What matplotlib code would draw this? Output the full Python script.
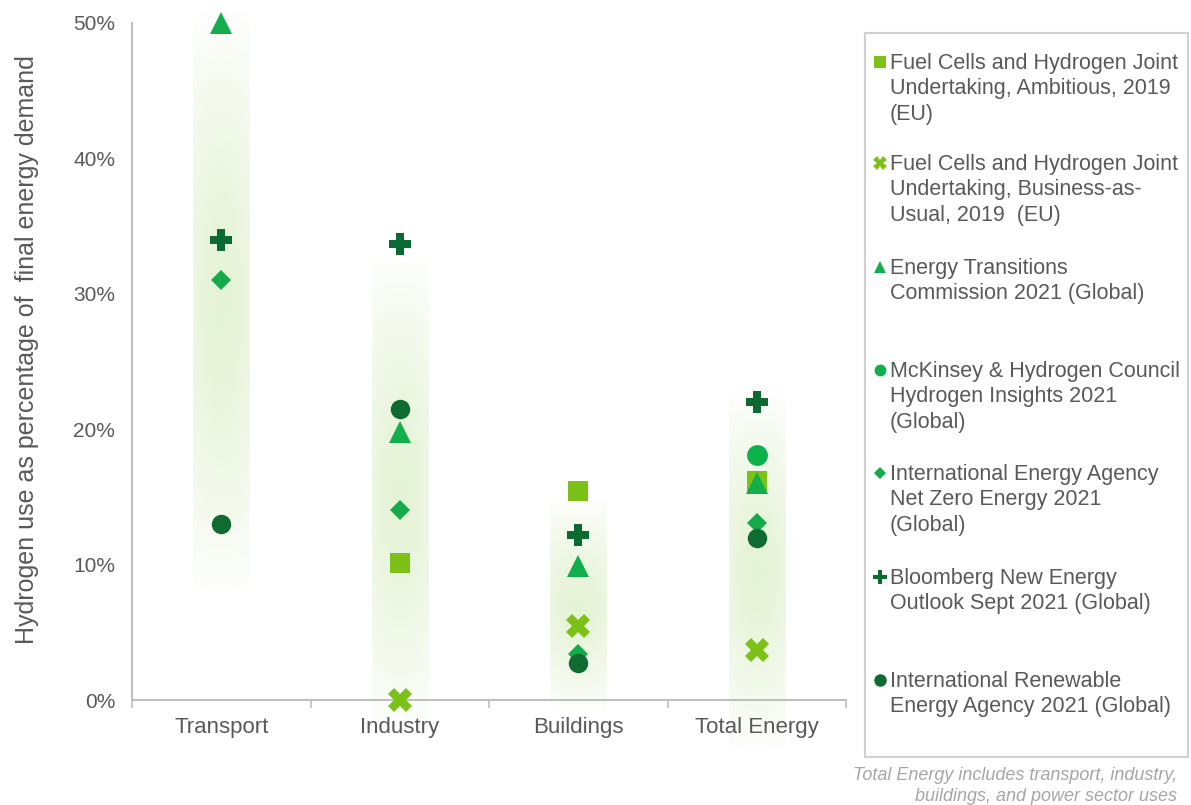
import numpy as np
import matplotlib.pyplot as plt
from matplotlib.lines import Line2D
from matplotlib.patches import Rectangle

plt.rcParams['font.family'] = ['Liberation Sans', 'DejaVu Sans']

# Werte in Prozent des Endenergiebedarfs
categories = ["Transport", "Industry", "Buildings", "Total Energy"]
fch_ambitious = [np.nan, 10.1, 15.4, 16.2]
fch_bau = [np.nan, 0.0, 5.5, 3.7]
etc_2021 = [50.0, 19.8, 9.9, 16.0]
mckinsey = [np.nan, np.nan, np.nan, 18.1]
iea_nze = [31.0, 14.0, 3.4, 13.1]
bnef = [34.0, 33.7, 12.2, 22.0]
irena = [13.0, 21.5, 2.7, 12.0]

# Bereich der hellgruenen Verlaufsbalken
band_low = [7.5, -2.5, -1.0, -4.0]
band_high = [51.0, 33.0, 15.0, 23.0]

labels = [
    "Fuel Cells and Hydrogen Joint\nUndertaking, Ambitious, 2019\n(EU)",
    "Fuel Cells and Hydrogen Joint\nUndertaking, Business-as-\nUsual, 2019  (EU)",
    "Energy Transitions\nCommission 2021 (Global)",
    "McKinsey & Hydrogen Council\nHydrogen Insights 2021\n(Global)",
    "International Energy Agency\nNet Zero Energy 2021\n(Global)",
    "Bloomberg New Energy\nOutlook Sept 2021 (Global)",
    "International Renewable\nEnergy Agency 2021 (Global)",
]

serien = [fch_ambitious, fch_bau, etc_2021, mckinsey, iea_nze, bnef, irena]
marker = ['s', 'X', '^', 'o', 'D', 'P', 'o']
farben = ['#7cc118', '#7cc118', '#12ae4c', '#0db14b', '#16ab4a', '#0b6a31', '#0f6b2f']
groesse = [14.5, 17, 15.5, 15, 10, 15.5, 14]
leg_groesse = [8.5, 10, 8, 8.5, 6, 9.5, 9]

grau = '#595959'

fig = plt.figure(figsize=(11.91, 8.05), dpi=100)
ax = fig.add_axes([132 / 1191, 1 - 700 / 805, 714 / 1191, 677 / 805])

# Verlaufsbalken
ny, nx = 256, 64
t = np.linspace(-1, 1, ny)[:, None]
s = np.linspace(-1, 1, nx)[None, :]
vert = np.clip(1 - np.abs(t) ** 2.5, 0, 1)
radial = np.exp(-(t ** 2) / 0.2 - (s ** 2) / 2.0)
alpha = (0.6 * vert + 0.3 * radial) * (1 - 0.2 * np.abs(s) ** 2)
alpha = np.clip(alpha, 0, 1) * 0.75
img = np.zeros((ny, nx, 4))
img[..., 0] = 0.85
img[..., 1] = 0.93
img[..., 2] = 0.76
img[..., 3] = alpha

x = np.arange(len(categories))
for i in x:
    im = ax.imshow(img, extent=[i - 0.157, i + 0.157, band_low[i], band_high[i]],
                   aspect='auto', origin='lower', zorder=0, interpolation='bilinear')
    im.set_clip_on(False)

for werte, m, c, g in zip(serien, marker, farben, groesse):
    ax.plot(x, werte, linestyle='none', marker=m, color=c, markersize=g,
            markeredgewidth=0, zorder=3, clip_on=False)

ax.set_xlim(-0.5, 3.5)
ax.set_ylim(0, 50)
ax.set_yticks([0, 10, 20, 30, 40, 50])
ax.set_yticklabels([f"{v}%" for v in [0, 10, 20, 30, 40, 50]])
ax.set_xticks(x)
ax.set_xticklabels(categories)
ax.set_xticks(np.arange(-0.5, 4, 1), minor=True)
ax.tick_params(axis='x', which='major', length=0, labelsize=16, labelcolor=grau, pad=12)
ax.tick_params(axis='x', which='minor', length=6, width=1.2, color='#bfbfbf', direction='out')
ax.tick_params(axis='y', length=0, labelsize=15, labelcolor=grau, pad=12)
for side in ['top', 'right']:
    ax.spines[side].set_visible(False)
for side in ['left', 'bottom']:
    ax.spines[side].set_color('#bfbfbf')
    ax.spines[side].set_linewidth(1.5)
ax.set_facecolor('none')

fig.text(27 / 1191, 1 - 350 / 805, "Hydrogen use as percentage of  final energy demand",
         rotation=90, ha='center', va='center', fontsize=18, color=grau)

# Legende von Hand, wie im Original gleichmaessig verteilt
fig.add_artist(Rectangle((865 / 1191, 1 - 757 / 805), 323 / 1191, 724 / 805,
                         transform=fig.transFigure, facecolor='white',
                         edgecolor='#d0d0d0', linewidth=1.5, zorder=0))
zeilen_y = [62, 163, 267, 370, 473, 577, 680]
for y, lab, m, c, g in zip(zeilen_y, labels, marker, farben, leg_groesse):
    fig.add_artist(Line2D([880 / 1191], [1 - y / 805], transform=fig.transFigure,
                          marker=m, color=c, markersize=g, markeredgewidth=0,
                          linestyle='none'))
    fig.text(890 / 1191, 1 - (y - 9) / 805, lab, ha='left', va='top',
             fontsize=15.5, color=grau, linespacing=1.27)

fig.text(1177 / 1191, 1 - 801 / 805,
         "Total Energy includes transport, industry,\nbuildings, and power sector uses",
         ha='right', va='baseline', multialignment='right', fontsize=13,
         style='italic', color='#a6a6a6', linespacing=1.3)

fig.savefig('out.png', dpi=100)
